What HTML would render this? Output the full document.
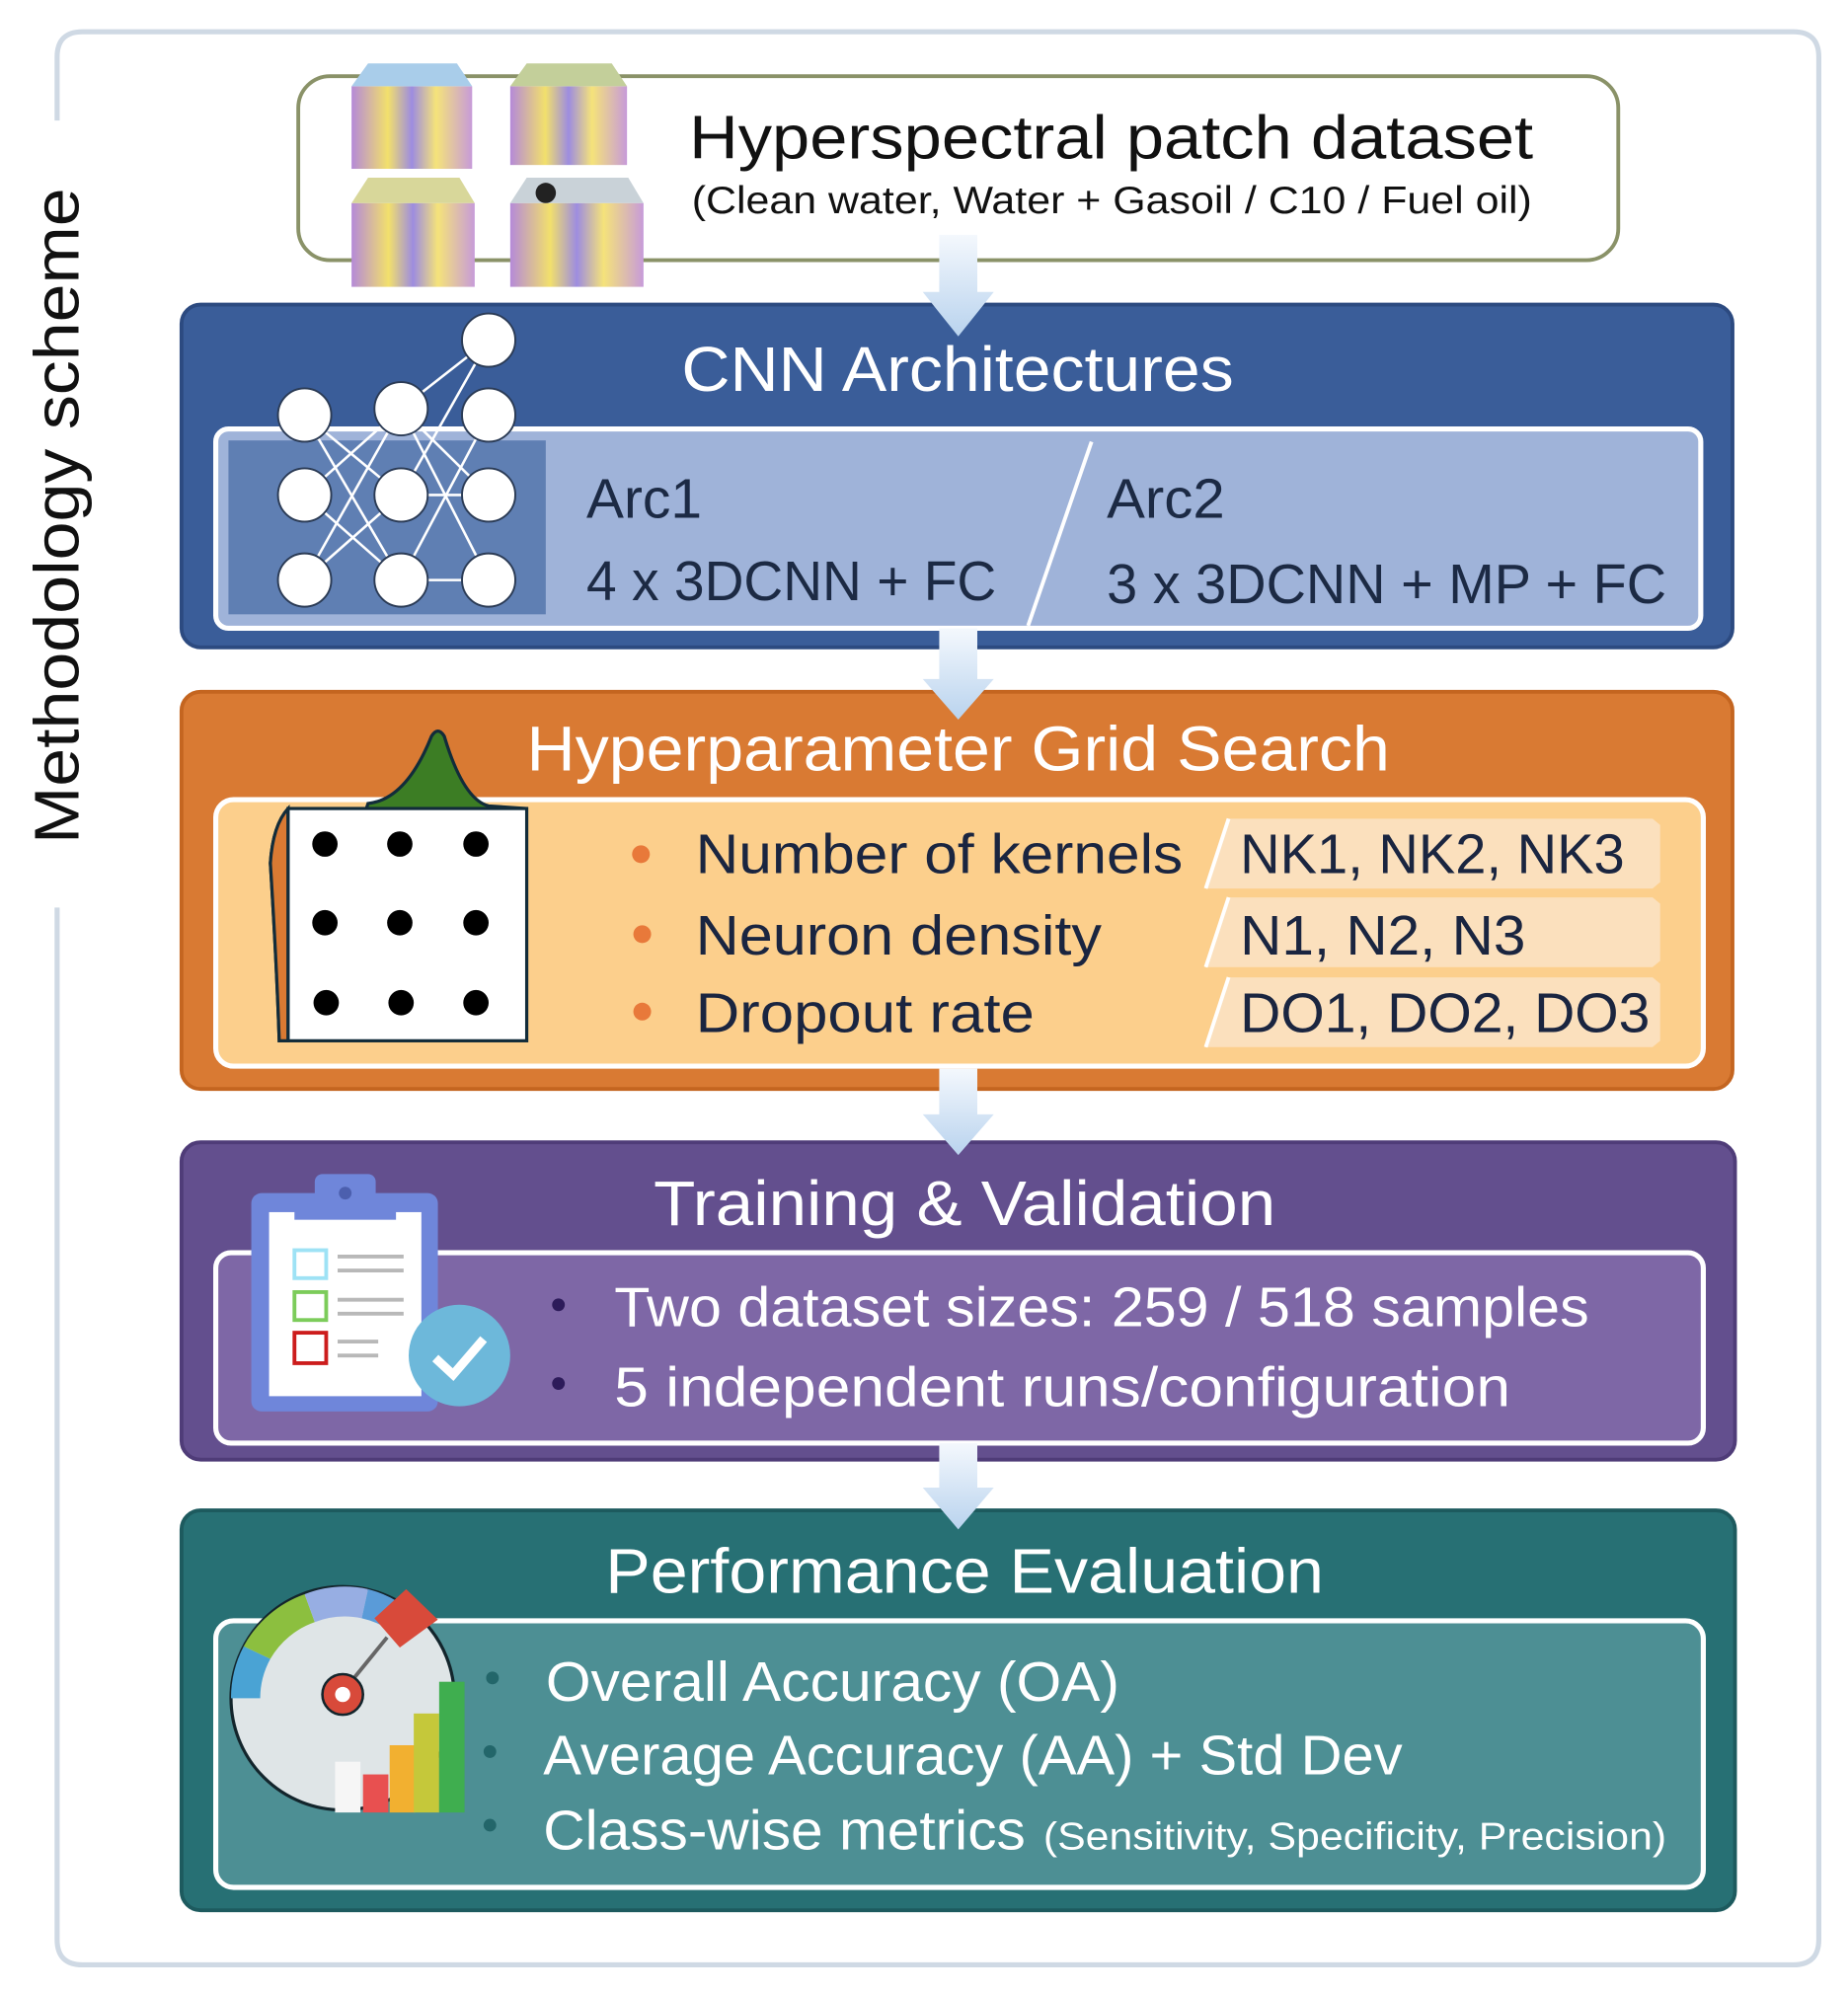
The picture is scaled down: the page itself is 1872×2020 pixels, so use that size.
<!DOCTYPE html>
<html><head><meta charset="utf-8"><style>
html,body{margin:0;padding:0;background:#fff;}
svg{display:block;}
text{font-family:"Liberation Sans",sans-serif;}
</style></head><body>
<svg width="1872" height="2020" viewBox="0 0 1456 1571" preserveAspectRatio="none" xmlns="http://www.w3.org/2000/svg">
<defs>
<linearGradient id="ar" x1="0" y1="0" x2="0" y2="1"><stop offset="0" stop-color="#f4f8fd"/><stop offset="1" stop-color="#b9d3ee"/></linearGradient>
<linearGradient id="cube" x1="0" y1="0" x2="1" y2="0"><stop offset="0" stop-color="#b58ad8"/><stop offset="0.3" stop-color="#f2e06c"/><stop offset="0.5" stop-color="#9d8ce0"/><stop offset="0.7" stop-color="#f5e37a"/><stop offset="1" stop-color="#c79bd9"/></linearGradient>
</defs>
<!-- outer frame -->
<path d="M45 95 V45 Q45 25 65 25 H1413 Q1433 25 1433 45 V1528 Q1433 1548 1413 1548 H65 Q45 1548 45 1528 V715" fill="none" stroke="#cfd9e4" stroke-width="4"/>
<text transform="translate(62,665) rotate(-90)" font-size="50" fill="#111" textLength="517" lengthAdjust="spacingAndGlyphs">Methodology scheme</text>

<!-- dataset box -->
<rect x="235" y="60" width="1040" height="145" rx="25" fill="#fff" stroke="#8a9268" stroke-width="3"/>
<g>
<rect x="277" y="68" width="95" height="65" fill="url(#cube)"/><polygon points="277,68 372,68 360,50 290,50" fill="#a9cdea"/>
<rect x="402" y="68" width="92" height="62" fill="url(#cube)"/><polygon points="402,68 494,68 482,50 415,50" fill="#c3cf9a"/>
<rect x="277" y="160" width="97" height="66" fill="url(#cube)"/><polygon points="277,160 374,160 362,140 290,140" fill="#d8d79a"/>
<rect x="402" y="160" width="105" height="66" fill="url(#cube)"/><polygon points="402,160 507,160 495,140 415,140" fill="#c9d2d8"/><circle cx="430" cy="152" r="8" fill="#222"/>
</g>
<text x="543" y="125" font-size="48" fill="#111" textLength="665" lengthAdjust="spacingAndGlyphs">Hyperspectral patch dataset</text>
<text x="545" y="168" font-size="30" fill="#111" textLength="662" lengthAdjust="spacingAndGlyphs">(Clean water, Water + Gasoil / C10 / Fuel oil)</text>

<!-- CNN -->
<rect x="143" y="240" width="1222" height="270" rx="15" fill="#3a5d99" stroke="#2c4a80" stroke-width="3"/>
<text x="537" y="308" font-size="50" fill="#fff" textLength="435" lengthAdjust="spacingAndGlyphs">CNN Architectures</text>
<rect x="170" y="338" width="1170" height="157" rx="10" fill="#9fb3d9" stroke="#fff" stroke-width="4"/>
<rect x="180" y="347" width="250" height="137" fill="#5f7fb3"/>
<g stroke="#fff" stroke-width="2">
<line x1="240" y1="327" x2="316" y2="457"/><line x1="240" y1="327" x2="316" y2="390"/><line x1="240" y1="390" x2="316" y2="457"/><line x1="240" y1="457" x2="316" y2="322"/><line x1="240" y1="457" x2="316" y2="390"/><line x1="240" y1="390" x2="316" y2="322"/>
<line x1="316" y1="322" x2="385" y2="268"/><line x1="316" y1="322" x2="385" y2="457"/><line x1="316" y1="390" x2="385" y2="390"/><line x1="316" y1="457" x2="385" y2="327"/><line x1="316" y1="457" x2="385" y2="457"/><line x1="316" y1="390" x2="385" y2="268"/><line x1="316" y1="322" x2="385" y2="390"/>
</g>
<g fill="#fff" stroke="#2b3b55" stroke-width="1.5">
<circle cx="240" cy="327" r="21"/><circle cx="240" cy="390" r="21"/><circle cx="240" cy="457" r="21"/>
<circle cx="316" cy="322" r="21"/><circle cx="316" cy="390" r="21"/><circle cx="316" cy="457" r="21"/>
<circle cx="385" cy="268" r="21"/><circle cx="385" cy="327" r="21"/><circle cx="385" cy="390" r="21"/><circle cx="385" cy="457" r="21"/>
</g>
<text x="462" y="408" font-size="44" fill="#1c2a44" textLength="91" lengthAdjust="spacingAndGlyphs">Arc1</text>
<text x="462" y="473" font-size="44" fill="#1c2a44" textLength="323" lengthAdjust="spacingAndGlyphs">4 x 3DCNN + FC</text>
<line x1="860" y1="348" x2="810" y2="493" stroke="#fff" stroke-width="3"/>
<text x="872" y="408" font-size="44" fill="#1c2a44" textLength="93" lengthAdjust="spacingAndGlyphs">Arc2</text>
<text x="872" y="475" font-size="44" fill="#1c2a44" textLength="441" lengthAdjust="spacingAndGlyphs">3 x 3DCNN + MP + FC</text>

<!-- Orange -->
<rect x="143" y="545" width="1222" height="313" rx="15" fill="#d97a33" stroke="#c46520" stroke-width="3"/>
<text x="415" y="607" font-size="50" fill="#fff" textLength="680" lengthAdjust="spacingAndGlyphs">Hyperparameter Grid Search</text>
<rect x="170" y="630" width="1172" height="210" rx="14" fill="#fccf8c" stroke="#fff" stroke-width="4"/>
<path d="M290 633 Q320 630 340 580 Q345 572 350 580 Q365 630 385 635 L415 637 L227 637 Q215 650 213 680 Q218 760 220 820 L227 820 Z" fill="#3c7d24" stroke="#122c3a" stroke-width="2.5"/>
<path d="M227 637 Q215 650 213 680 Q218 760 220 820 L227 820 Z" fill="#d97a33" stroke="#122c3a" stroke-width="2.5"/>
<rect x="227" y="637" width="188" height="183" fill="#fff" stroke="#122c3a" stroke-width="2.5"/>
<g fill="#000"><circle cx="256" cy="665" r="10"/><circle cx="315" cy="665" r="10"/><circle cx="375" cy="665" r="10"/><circle cx="256" cy="727" r="10"/><circle cx="315" cy="727" r="10"/><circle cx="375" cy="727" r="10"/><circle cx="257" cy="790" r="10"/><circle cx="316" cy="790" r="10"/><circle cx="375" cy="790" r="10"/></g>
<g fill="#e8793a"><circle cx="505" cy="673" r="7"/><circle cx="506" cy="736" r="7"/><circle cx="506" cy="797" r="7"/></g>
<text x="548" y="688" font-size="44" fill="#1a2540" textLength="384" lengthAdjust="spacingAndGlyphs">Number of kernels</text>
<text x="548" y="752" font-size="44" fill="#1a2540" textLength="320" lengthAdjust="spacingAndGlyphs">Neuron density</text>
<text x="548" y="813" font-size="44" fill="#1a2540" textLength="267" lengthAdjust="spacingAndGlyphs">Dropout rate</text>
<g fill="#fbe0bd"><polygon points="968,645 1302,645 1308,650 1308,695 1302,700 950,700"/><polygon points="968,707 1302,707 1308,712 1308,757 1302,762 950,762"/><polygon points="968,770 1302,770 1308,775 1308,820 1302,825 950,825"/></g>
<g stroke="#fff" stroke-width="3"><line x1="968" y1="645" x2="950" y2="700"/><line x1="968" y1="707" x2="950" y2="762"/><line x1="968" y1="770" x2="950" y2="825"/></g>
<text x="977" y="688" font-size="44" fill="#1a2540" textLength="303" lengthAdjust="spacingAndGlyphs">NK1, NK2, NK3</text>
<text x="977" y="752" font-size="44" fill="#1a2540" textLength="225" lengthAdjust="spacingAndGlyphs">N1, N2, N3</text>
<text x="977" y="813" font-size="44" fill="#1a2540" textLength="323" lengthAdjust="spacingAndGlyphs">DO1, DO2, DO3</text>

<!-- Purple -->
<rect x="143" y="900" width="1224" height="250" rx="15" fill="#634f8e" stroke="#4f3c78" stroke-width="3"/>
<text x="515" y="965" font-size="50" fill="#fff" textLength="490" lengthAdjust="spacingAndGlyphs">Training &amp; Validation</text>
<rect x="170" y="987" width="1172" height="150" rx="12" fill="#7e67a6" stroke="#fff" stroke-width="4"/>
<rect x="198" y="940" width="147" height="172" rx="8" fill="#6f86da"/>
<rect x="212" y="955" width="120" height="145" fill="#fff"/>
<rect x="248" y="925" width="48" height="30" rx="6" fill="#6f86da"/><rect x="232" y="945" width="80" height="16" fill="#6f86da"/>
<circle cx="272" cy="940" r="5" fill="#4c5fae"/>
<rect x="232" y="985" width="25" height="22" fill="none" stroke="#9ee2f5" stroke-width="3"/>
<rect x="232" y="1018" width="25" height="22" fill="none" stroke="#7ccc5a" stroke-width="3"/>
<rect x="232" y="1050" width="25" height="24" fill="none" stroke="#cc1c1c" stroke-width="3"/>
<g stroke="#b8b8b8" stroke-width="3"><line x1="266" y1="990" x2="318" y2="990"/><line x1="266" y1="1001" x2="318" y2="1001"/><line x1="266" y1="1024" x2="318" y2="1024"/><line x1="266" y1="1035" x2="318" y2="1035"/><line x1="266" y1="1057" x2="298" y2="1057"/><line x1="266" y1="1068" x2="298" y2="1068"/></g>
<circle cx="362" cy="1068" r="40" fill="#6db8da"/>
<polyline points="343,1070 357,1083 381,1055" fill="none" stroke="#fff" stroke-width="7"/>
<g fill="#2d1b5a"><circle cx="440" cy="1028" r="5"/><circle cx="440" cy="1090" r="5"/></g>
<text x="484" y="1045" font-size="44" fill="#fff" textLength="768" lengthAdjust="spacingAndGlyphs">Two dataset sizes: 259 / 518 samples</text>
<text x="484" y="1108" font-size="44" fill="#fff" textLength="706" lengthAdjust="spacingAndGlyphs">5 independent runs/configuration</text>

<!-- Teal -->
<rect x="143" y="1190" width="1224" height="315" rx="15" fill="#277074" stroke="#1d5a5e" stroke-width="3"/>
<text x="477" y="1255" font-size="50" fill="#fff" textLength="566" lengthAdjust="spacingAndGlyphs">Performance Evaluation</text>
<rect x="170" y="1277" width="1172" height="210" rx="14" fill="#4d8f94" stroke="#fff" stroke-width="4"/>
<circle cx="270" cy="1338" r="88" fill="#dfe5e7" stroke="#13252c" stroke-width="2.5"/>
<path d="M182 1338 A88 88 0 0 1 192 1297 L213 1307 A65 65 0 0 0 205 1338 Z" fill="#4aa3d4"/>
<path d="M192 1297 A88 88 0 0 1 240 1256 L248 1278 A65 65 0 0 0 213 1307 Z" fill="#8cbf3f"/>
<path d="M240 1256 A88 88 0 0 1 290 1252 L285 1275 A65 65 0 0 0 248 1278 Z" fill="#97aee3"/>
<path d="M290 1252 A88 88 0 0 1 318 1265 L305 1283 A65 65 0 0 0 285 1275 Z" fill="#5a9bd8"/>
<line x1="270" y1="1333" x2="305" y2="1290" stroke="#666" stroke-width="3"/>
<polygon points="295,1275 320,1252 345,1276 315,1298" fill="#d84a3a"/>
<circle cx="270" cy="1335" r="16" fill="#d84a3a" stroke="#13252c" stroke-width="2"/><circle cx="270" cy="1335" r="6" fill="#fff"/>
<rect x="264" y="1388" width="20" height="40" fill="#f6f6f6"/><rect x="286" y="1398" width="20" height="30" fill="#e85050"/><rect x="307" y="1375" width="20" height="53" fill="#f2b030"/><rect x="326" y="1350" width="20" height="78" fill="#c5c83a"/><rect x="346" y="1325" width="20" height="103" fill="#3fae4f"/>
<g fill="#23666a"><circle cx="388" cy="1322" r="5"/><circle cx="386" cy="1380" r="5"/><circle cx="386" cy="1438" r="5"/></g>
<text x="430" y="1340" font-size="44" fill="#fff" textLength="452" lengthAdjust="spacingAndGlyphs">Overall Accuracy (OA)</text>
<text x="428" y="1398" font-size="44" fill="#fff" textLength="677" lengthAdjust="spacingAndGlyphs">Average Accuracy (AA) + Std Dev</text>
<text x="428" y="1457" font-size="44" fill="#fff" textLength="380" lengthAdjust="spacingAndGlyphs">Class-wise metrics</text>
<text x="822" y="1457" font-size="30" fill="#fff" textLength="491" lengthAdjust="spacingAndGlyphs">(Sensitivity, Specificity, Precision)</text>

<!-- arrows -->
<g fill="url(#ar)">
<polygon points="740,185 770,185 770,230 783,230 755,265 727,230 740,230"/>
<polygon points="740,495 770,495 770,535 783,535 755,567 727,535 740,535"/>
<polygon points="740,842 770,842 770,878 783,878 755,910 727,878 740,878"/>
<polygon points="740,1137 770,1137 770,1172 783,1172 755,1205 727,1172 740,1172"/>
</g>
</svg>
</body></html>
